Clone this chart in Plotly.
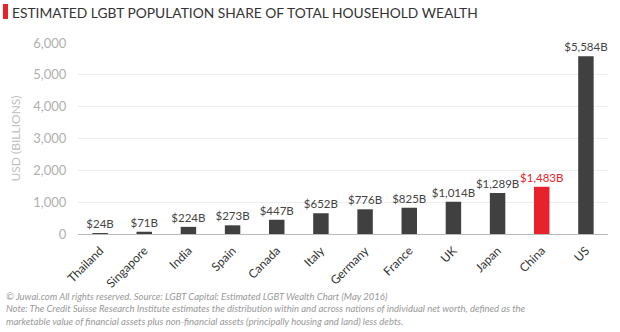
import plotly.graph_objects as go

countries = ["Thailand", "Singapore", "India", "Spain", "Canada", "Italy", "Germany",
             "France", "UK", "Japan", "China", "US"]
wealth = [24, 71, 224, 273, 447, 652, 776, 825, 1014, 1289, 1483, 5584]
labels = ["$24B", "$71B", "$224B", "$273B", "$447B", "$652B", "$776B", "$825B",
          "$1,014B", "$1,289B", "$1,483B", "$5,584B"]
highlight = "China"
tick_vals = [0, 1000, 2000, 3000, 4000, 5000, 6000]
tick_text = ["0", "1,000", "2,000", "3,000", "4,000", "5,000", "6,000"]

DARK = "#404040"
RED = "#e8222b"
colors = [RED if c == highlight else DARK for c in countries]
text_colors = [RED if c == highlight else "#444444" for c in countries]

fig = go.Figure(go.Bar(
    x=countries, y=wealth, marker_color=colors, marker_line_width=0,
    text=labels, textposition="outside", cliponaxis=False,
    textfont=dict(family="Lato", size=11.5, color=text_colors),
))

fig.update_layout(
    width=620, height=332,
    margin=dict(l=78, r=12, t=43, b=98),
    paper_bgcolor="white", plot_bgcolor="white",
    bargap=0.65,
    showlegend=False,
    uniformtext=dict(minsize=11.5, mode="show"),
    font=dict(family="Lato", color="#333333"),
    xaxis=dict(tickangle=-45, tickfont=dict(size=12, color="#333333"),
               showgrid=False, ticks="outside", ticklen=4, tickcolor="white",
               showline=False),
    yaxis=dict(range=[0, 6000], tickvals=tick_vals, ticktext=tick_text,
               tickfont=dict(size=13, color="#b0b0b0"),
               gridcolor="#eeeeee", gridwidth=1,
               zeroline=True, zerolinecolor="#bbbbbb", zerolinewidth=1,
               ticks="outside", ticklen=8, tickcolor="white", showline=False,
               title=dict(text="USD (BILLIONS)", font=dict(size=12, color="#c0c0c0"),
                          standoff=10)),
    shapes=[dict(type="rect", xref="paper", yref="paper",
                 x0=-75/530, x1=-70/530, y0=(234-19)/191,
                 y1=(234-4)/191, fillcolor=RED, line_width=0)],
    annotations=[
        dict(text="ESTIMATED LGBT POPULATION SHARE OF TOTAL HOUSEHOLD WEALTH",
             xref="paper", yref="paper", x=-68/530, y=(234-12)/191,
             xanchor="left", yanchor="middle", showarrow=False,
             font=dict(family="Lato", size=13.8, color="#333333")),
        dict(text="<i>© Juwai.com All rights reserved. Source: LGBT Capital: Estimated LGBT Wealth Chart (May 2016)<br>"
                  "Note: The Credit Suisse Research Institute estimates the distribution within and across nations of individual net worth, defined as the<br>"
                  "marketable value of financial assets plus non-financial assets (principally housing and land) less debts.</i>",
             xref="paper", yref="paper", x=-74/530, y=(234-289)/191,
             xanchor="left", yanchor="top", align="left", showarrow=False,
             font=dict(family="Lato", size=9.5, color="#999999")),
    ],
)

fig.write_html("out.html")
